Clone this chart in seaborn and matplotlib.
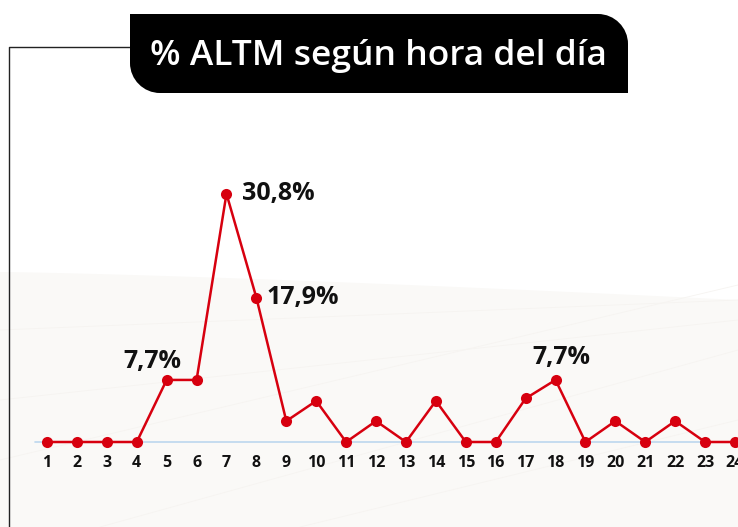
import matplotlib
matplotlib.use("Agg")
import matplotlib.pyplot as plt
import seaborn as sns
import pandas as pd
import numpy as np
from matplotlib.path import Path
from matplotlib.patches import PathPatch, Polygon

hours = list(range(1, 25))
pct = [0, 0, 0, 0, 7.7, 7.7, 30.8, 17.9, 2.6, 5.1, 0, 2.6,
       0, 5.1, 0, 0, 5.4, 7.7, 0, 2.6, 0, 2.6, 0, 0]
label_texts = ["7,7%", "30,8%", "17,9%", "7,7%"]
label_hours = [5, 7, 8, 18]
label_vals = [7.7, 30.8, 17.9, 7.7]
title = "% ALTM según hora del día"

W, H = 738, 527
sns.set_theme(style="white")
plt.rcParams['font.family'] = ['Open Sans', 'DejaVu Sans']

fig = plt.figure(figsize=(W / 100, H / 100), dpi=100)
fig.patch.set_facecolor("white")

def fx(px):
    return px / W

def fy(py):
    return 1 - py / H

# light background region
bgx = np.linspace(0, W, 50)
bgy = 272 + 28 * (bgx / W) ** 1.3
pts = [(fx(x), fy(y)) for x, y in zip(bgx, bgy)] + [(1, 0), (0, 0)]
fig.patches.append(Polygon(pts, closed=True, transform=fig.transFigure,
                           facecolor="#faf9f7", edgecolor="none", zorder=-3))
# faint decorative curves
for (x0, y0, x1, y1) in [(0, 460, 738, 285), (0, 330, 738, 300), (0, 400, 738, 320),
                         (100, 527, 738, 350), (300, 527, 738, 420)]:
    fig.add_artist(plt.Line2D([fx(x0), fx(x1)], [fy(y0), fy(y1)],
                              transform=fig.transFigure, color="#f6f4f1", lw=0.6, zorder=-2))

ax = fig.add_axes([0, 0, 1, 1])
ax.set_zorder(1)
ax.set_facecolor("none")
df = pd.DataFrame({"hour": hours, "pct": pct})

ppu = 8.06
base_px = H - 442
ax.set_ylim(-base_px / ppu, (H - base_px) / ppu)
step = (735 - 47) / 23
ax.set_xlim(1 - 47 / step, 1 + (W - 47) / step)

# baseline
ax.plot([1 - 12 / step, 30], [0, 0], color="#bcd7ee", lw=1.2, zorder=1)

sns.lineplot(data=df, x="hour", y="pct", ax=ax, color="#d7000f", lw=1.8,
             marker="o", markersize=8, markeredgewidth=0, zorder=3)

for h in hours:
    ax.text(h, -21 / ppu, str(h), ha="center", va="center", fontsize=11.5,
            fontweight="bold", color="#111111")

offsets = [(-14 / step, 18, "center"), (16 / step, 0, "left"), (10 / step, 0, "left"), (6 / step, 22, "center")]
for txt, h, v, (dx, dy, ha) in zip(label_texts, label_hours, label_vals, offsets):
    ax.text(h + dx, v + dy / ppu, txt, ha=ha, va="center", fontsize=18,
            fontweight="bold", color="#111111")

ax.axis("off")

# left frame line
fig.add_artist(plt.Line2D([fx(9), fx(9), fx(132)], [fy(527), fy(47), fy(47)],
                          transform=fig.transFigure, color="#222222", lw=1.0, zorder=4))

# title box with rounded top-right and bottom-left corners
x0, x1, y0, y1 = 130, 628, 14, 93
r = 30
k = 0.55 * r
verts = [(x0, y0), (x1 - r, y0), (x1 - r + k, y0), (x1, y0 + r - k), (x1, y0 + r),
         (x1, y1), (x0 + r, y1), (x0 + r - k, y1), (x0, y1 - r + k), (x0, y1 - r), (x0, y0), (x0, y0)]
codes = [Path.MOVETO, Path.LINETO, Path.CURVE4, Path.CURVE4, Path.CURVE4,
         Path.LINETO, Path.LINETO, Path.CURVE4, Path.CURVE4, Path.CURVE4, Path.LINETO, Path.CLOSEPOLY]
path = Path([(fx(x), fy(y)) for x, y in verts], codes)
fig.patches.append(PathPatch(path, transform=fig.transFigure, facecolor="black",
                             edgecolor="none", zorder=5))
fig.text(fx(378), fy(56), title, ha="center", va="center", color="white",
         fontsize=25.5, fontweight="semibold", zorder=6)

fig.savefig("out.png", dpi=100, facecolor="white")
